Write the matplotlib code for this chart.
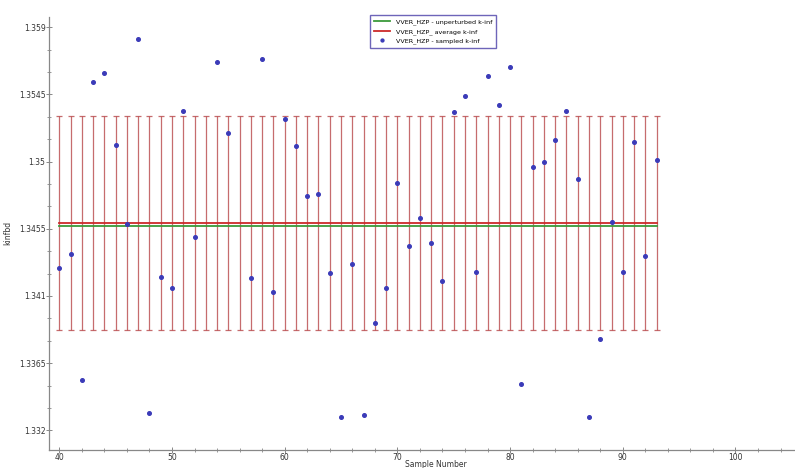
# k-inf sampling results for the VVER hot zero power case
import numpy as np
import matplotlib.pyplot as plt
from matplotlib.ticker import MultipleLocator

samples = list(range(40, 94))
# samples 53 and 56 gave no result
kinf_sampled = [
	1.342883, 1.343789, 1.335397, 1.355337, 1.355910, 1.351115, 1.345787, 1.358221,
	1.333179, 1.342283, 1.341504, 1.353379, 1.344921, np.nan, 1.356669, 1.351914,
	np.nan, 1.342170, 1.356869, 1.341284, 1.352826, 1.351075, 1.347698, 1.347851,
	1.342550, 1.332866, 1.343123, 1.332999, 1.339193, 1.341551, 1.348584, 1.344368,
	1.346233, 1.344568, 1.341970, 1.353292, 1.354405, 1.342616, 1.355737, 1.353779,
	1.356356, 1.335091, 1.349609, 1.349982, 1.351474, 1.353379, 1.348830, 1.332913,
	1.338088, 1.345980, 1.342616, 1.351294, 1.343655, 1.350116,
]
kinf_unperturbed = 1.345700
kinf_average = 1.345880
kinf_std = 0.007160

y_ticks = [1.332, 1.3365, 1.341, 1.3455, 1.35, 1.3545, 1.359]
y_ticklabels = ['1.332', '1.3365', '1.341', '1.3455', '1.35', '1.3545', '1.359']

fig = plt.figure(figsize=(7.95, 4.68), dpi=100)
ax = fig.add_axes([0.0616, 0.0395, 0.9384, 0.9242])

ax.errorbar(samples, [kinf_average] * len(samples), yerr=kinf_std, fmt='none',
			ecolor='#b8474a', elinewidth=0.9, capsize=2.2, capthick=0.9, alpha=0.8, zorder=1)
ax.plot([samples[0], samples[-1]], [kinf_unperturbed] * 2, color='#3a9a3a', lw=1.3,
		label='VVER_HZP - unperturbed k-inf', zorder=2)
ax.plot([samples[0], samples[-1]], [kinf_average] * 2, color='#cc2a2a', lw=1.3,
		label='VVER_HZP_ average k-inf', zorder=2)
ax.plot(samples, kinf_sampled, ls='none', marker='o', ms=2.6, color='#3b3bb8',
		label='VVER_HZP - sampled k-inf', zorder=3)

ax.set_xlim(39.086, 105.28)
ax.set_ylim(1.330715, 1.359686)
ax.set_yticks(y_ticks)
ax.set_yticklabels(y_ticklabels)
ax.xaxis.set_major_locator(MultipleLocator(10))
ax.xaxis.set_minor_locator(MultipleLocator(2))
ax.yaxis.set_minor_locator(MultipleLocator(0.0015))

for side in ['top', 'right']:
	ax.spines[side].set_visible(False)
for side in ['left', 'bottom']:
	ax.spines[side].set_color('#888888')
	ax.spines[side].set_linewidth(0.9)

ax.tick_params(which='major', direction='inout', length=4, width=0.7, colors='#888888',
			   labelcolor='#333333', labelsize=5.5, pad=0.5)
ax.tick_params(which='minor', direction='inout', length=2.5, width=0.6, colors='#888888')

# axis title sits just right of the "70" tick label
ax.set_xlabel('Sample Number', fontsize=5.5, color='#333333')
ax.xaxis.set_label_coords(0.477, -0.025)
ax.xaxis.label.set_ha('left')
ax.xaxis.label.set_va('top')
ax.set_ylabel('kinfbd', fontsize=5.5, color='#333333', labelpad=5)

leg = ax.legend(loc='upper left', bbox_to_anchor=(0.426, 1.011), fontsize=4.6,
				frameon=True, fancybox=False, borderpad=0.6, handlelength=2.6,
				labelspacing=0.5, markerscale=0.8)
leg.get_frame().set_edgecolor('#4a3fa8')
leg.get_frame().set_linewidth(1.0)

fig.savefig('out.png', dpi=100)
